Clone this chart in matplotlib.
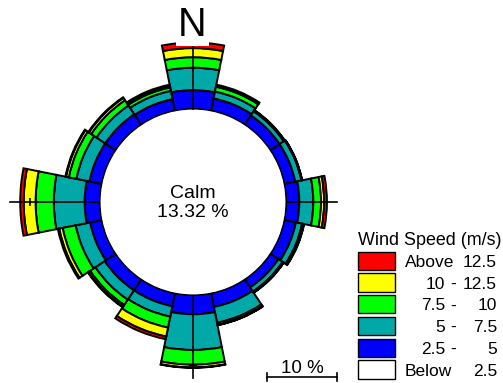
import matplotlib

matplotlib.use("Agg")
import matplotlib.pyplot as plt
import numpy as np
from matplotlib.patches import Rectangle

plt.rcParams["font.family"] = ["Liberation Sans", "DejaVu Sans"]

# frequency (%) per direction and wind speed class
directions = ["N", "NNE", "NE", "ENE", "E", "ESE", "SE", "SSE",
              "S", "SSW", "SW", "WSW", "W", "WNW", "NW", "NNW"]
ws_2_5_to_5 = [2.7, 1.8, 1.6, 1.6, 1.9, 1.7, 1.4, 2.0, 2.75, 1.9, 1.9, 1.7, 2.2, 1.8, 1.8, 1.7]
ws_5_to_7_5 = [3.2, 1.0, 0.7, 0.9, 2.0, 0.9, 0.7, 2.3, 5.1, 1.5, 1.6, 2.1, 4.4, 1.9, 1.5, 1.2]
ws_7_5_to_10 = [1.5, 0.7, 0.1, 0.05, 1.1, 0.15, 0.1, 0.3, 2.1, 1.6, 0.9, 1.9, 2.6, 1.1, 0.9, 0.5]
ws_10_to_12_5 = [1.3, 0.15, 0.05, 0.05, 0.45, 0.1, 0.1, 0.05, 0.4, 1.3, 0.3, 0.5, 1.7, 0.4, 0.4, 0.25]
ws_above_12_5 = [0.8, 0.15, 0.05, 0.0, 0.4, 0.05, 0.0, 0.0, 0.05, 0.4, 0.1, 0.2, 0.5, 0.1, 0.1, 0.15]
calm_pct = 13.32

classes = [ws_2_5_to_5, ws_5_to_7_5, ws_7_5_to_10, ws_10_to_12_5, ws_above_12_5]
class_colors = ["#0000FF", "#00A8A8", "#00FF00", "#FFFF00", "#FF0000"]

legend_labels = [("Above", "", "12.5"), ("10", "-", "12.5"), ("7.5", "-", "10"),
                 ("5", "-", "7.5"), ("2.5", "-", "5"), ("Below", "", "2.5")]
legend_colors = ["#FF0000", "#FFFF00", "#00FF00", "#00A8A8", "#0000FF", "#FFFFFF"]

W, H = 503, 383
PX_PER_PCT = 7.0      # radial scale
CALM_R_PX = 93.0      # radius of the calm circle
CX, CY = 193, 202     # rose centre (pixels from top-left)
AX_R = 190            # half size of the polar axes


def fx(x):
    return x / W


def fy(y):
    return 1 - y / H


fig = plt.figure(figsize=(W / 100, H / 100), dpi=100)
ax = fig.add_axes([fx(CX - AX_R), fy(CY + AX_R), 2 * AX_R / W, 2 * AX_R / H],
                  projection="polar")
ax.set_theta_zero_location("N")
ax.set_theta_direction(-1)
r_origin = CALM_R_PX / PX_PER_PCT
ax.set_ylim(0, AX_R / PX_PER_PCT - r_origin)
ax.set_rorigin(-r_origin)
ax.grid(False)
ax.set_xticks([])
ax.set_yticks([])
ax.spines["polar"].set_visible(False)
ax.patch.set_visible(False)

n = len(directions)
theta = np.arange(n) * 2 * np.pi / n
width = 2 * np.pi / n
bottom = np.zeros(n)
for vals, col in zip(classes, class_colors):
    vals = np.asarray(vals)
    ax.bar(theta, vals, width=width, bottom=bottom, color=col,
           edgecolor="black", linewidth=1.4, zorder=2)
    bottom += vals

# cardinal axis lines running a little past each bar, with a 10 % tick
for i in range(0, n, 4):
    length = bottom[i] + 1.45
    ax.plot([theta[i], theta[i]], [0, length], color="black", lw=1.2, zorder=3)
    if length > 10:
        marker = "_" if i % 8 == 0 else "|"
        ax.plot([theta[i]], [10], marker=marker, color="black", ms=6, mew=1.2, zorder=3)

# calm in the middle
fig.text(fx(CX), fy(CY + 1), f"Calm\n{calm_pct:.2f} %", ha="center", va="center",
         fontsize=14, linespacing=1.2)

fig.text(fx(192.5), fy(36), "N", ha="center", va="baseline", fontsize=28.5,
         bbox=dict(boxstyle="square,pad=0.05", facecolor="white", edgecolor="none"))

# scale bar
bar_y = 377
x0, x1 = 267, 267 + 10 * PX_PER_PCT
fig.add_artist(plt.Line2D([fx(x0), fx(x1)], [fy(bar_y), fy(bar_y)], color="black", lw=1.2))
for xe in (x0, x1):
    fig.add_artist(plt.Line2D([fx(xe), fx(xe)], [fy(bar_y - 4), fy(bar_y + 4)],
                              color="black", lw=1.2))
fig.text(fx((x0 + x1) / 2), fy(373), "10 %", ha="center", va="baseline", fontsize=13.5)

# legend
fig.text(fx(358), fy(245), "Wind Speed (m/s)", fontsize=12.9, va="baseline")
for i, ((left, dash, right), col) in enumerate(zip(legend_labels, legend_colors)):
    top = 251.7 + 21.7 * i
    fig.add_artist(Rectangle((fx(358.3), fy(top + 18.3)), 36.7 / W, 18.3 / H,
                             facecolor=col, edgecolor="black", lw=1.0,
                             transform=fig.transFigure))
    base = fy(top + 15.4)
    if dash:
        fig.text(fx(445), base, left, ha="right", va="baseline", fontsize=12.5)
        fig.text(fx(453), base, dash, ha="center", va="baseline", fontsize=12.5)
    else:
        fig.text(fx(405), base, left, ha="left", va="baseline", fontsize=12.5)
    fig.text(fx(497), base, right, ha="right", va="baseline", fontsize=12.5)

fig.savefig("out.png", dpi=100)
